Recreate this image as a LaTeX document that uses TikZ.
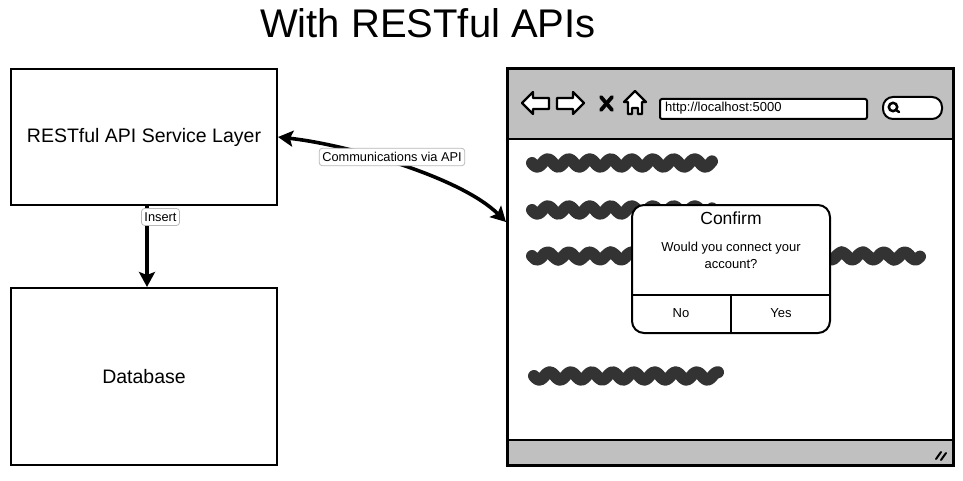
\documentclass[tikz,border=0pt]{standalone}
\usepackage{fontspec}
\setmainfont{Liberation Sans}
\usetikzlibrary{arrows.meta}
\definecolor{barg}{HTML}{C0C0C0}
\definecolor{scrib}{HTML}{333333}
\definecolor{lblborder}{HTML}{B8B8B8}
\newcommand{\fs}[1]{\fontsize{#1}{#1}\selectfont}
\tikzset{
  box/.style={draw=black, line width=2pt, fill=white, inner sep=0pt, align=center},
  tip/.style={Stealth[length=15pt,width=16pt,inset=3pt]},
  conn/.style={line width=3.6pt, draw=black, {Stealth[length=15pt,width=16pt,inset=3pt]}-{Stealth[length=15pt,width=16pt,inset=3pt]}},
  oneway/.style={line width=3.6pt, draw=black, -{Stealth[length=15pt,width=16pt,inset=3pt]}},
  lbl/.style={draw=lblborder, line width=0.8pt, fill=white, rounded corners=3pt, inner xsep=3pt, inner ysep=4pt, font=\fs{12.8}},
  scribble/.style={draw=scrib, line width=12pt, line cap=round, line join=round},
  icon/.style={draw=black, fill=white, line width=2.2pt, line join=round},
  txt/.style={inner sep=0pt, font=\fs{13}}
}
\newcommand{\scrib}[3]{\draw[scribble] plot[domain=#1:#2, samples=90, smooth] (\x,{#3+3.8*sin((\x-#1)/21*360)});}
\begin{document}
\begin{tikzpicture}[x=1pt,y=-1pt]
\useasboundingbox (0,0) rectangle (963,481);
% title
\node[inner sep=0pt, font=\fs{40}] (title) at (428,23) {With RESTful APIs};
% left boxes
\node[box, minimum width=266pt, minimum height=136pt, font=\fs{19.5}] (api) at (144,137) {RESTful API Service Layer};
\node[box, minimum width=266pt, minimum height=177pt, font=\fs{19.5}] (db) at (144,376.5) {Database};
% browser
\node[inner sep=0pt, minimum width=445pt, minimum height=396pt] (browser) at (730.5,267) {};
\fill[barg] (browser.north west) rectangle (953,139);
\fill[barg] (508,440) rectangle (browser.south east);
\draw[line width=2pt] (508,139) -- (953,139);
\draw[line width=2pt] (508,440) -- (953,440);
% icons
\draw[icon] (522,103) -- (533,92) -- (533,98) -- (549,98) -- (549,109) -- (533,109) -- (533,114) -- cycle;
\draw[icon] (584,103) -- (573,92) -- (573,98) -- (557,98) -- (557,109) -- (573,109) -- (573,114) -- cycle;
\draw[line width=3.8pt, line cap=round] (601,97) -- (612,110) (612,97) -- (601,110);
\draw[icon] (635,91) -- (646,102) -- (642,102) -- (642,114) -- (638,114) -- (638,108) -- (632,108) -- (632,114) -- (628,114) -- (628,102) -- (624,102) -- cycle;
\node[draw=black, fill=white, line width=2pt, rounded corners=2pt, minimum width=207pt, minimum height=20pt, inner sep=0pt] (url) at (763.5,109) {};
\node[txt, anchor=west] (urltext) at (665,108) {http://localhost:5000};
\node[draw=black, fill=white, line width=2pt, rounded corners=10pt, minimum width=59pt, minimum height=22pt, inner sep=0pt] (search) at (912.5,108) {};
\draw[line width=2.5pt] (893,107) circle (4.2);
\draw[line width=2.5pt, line cap=round] (896,110) -- (899,112);
% scribbles
\scrib{532}{712}{163}
\scrib{532}{712}{210}
\scrib{532}{920}{256}
\scrib{534}{718}{376}
% dialog
\node[draw=black, fill=white, line width=2pt, rounded corners=12pt, minimum width=198pt, minimum height=128pt, inner sep=0pt] (dialog) at (731,269) {};
\node[inner sep=0pt, font=\fs{17.5}] (confirm) at (731,218) {Confirm};
\node[txt, align=center] (msg) at (731,255) {Would you connect your\\[4pt]account?};
\coordinate (dl) at (632,295);
\coordinate (dr) at (830,295);
\coordinate (dm) at (731,295);
\draw[line width=1.6pt] (dl) -- (dr);
\draw[line width=1.6pt] (dm) -- (dialog.south);
\node[txt] (no) at (681,313) {No};
\node[txt] (yes) at (781,313) {Yes};
% resize grip
\draw[line width=2pt, line cap=round] (936,459) -- (941,452) (941,460) -- (946,453);
% browser outline
\draw[line width=2.8pt] (browser.north west) rectangle (browser.south east);
% connectors
\coordinate (bin) at (506,222);
\draw[conn] (api.east) .. controls (350,145) and (462,178) .. (bin);
\node[lbl] (comm) at (392,157) {Communications via API};
\draw[oneway] ([xshift=3pt]api.south) -- ([xshift=3pt]db.north);
\node[lbl] (ins) at (160.5,217) {Insert};
\end{tikzpicture}
\end{document}
